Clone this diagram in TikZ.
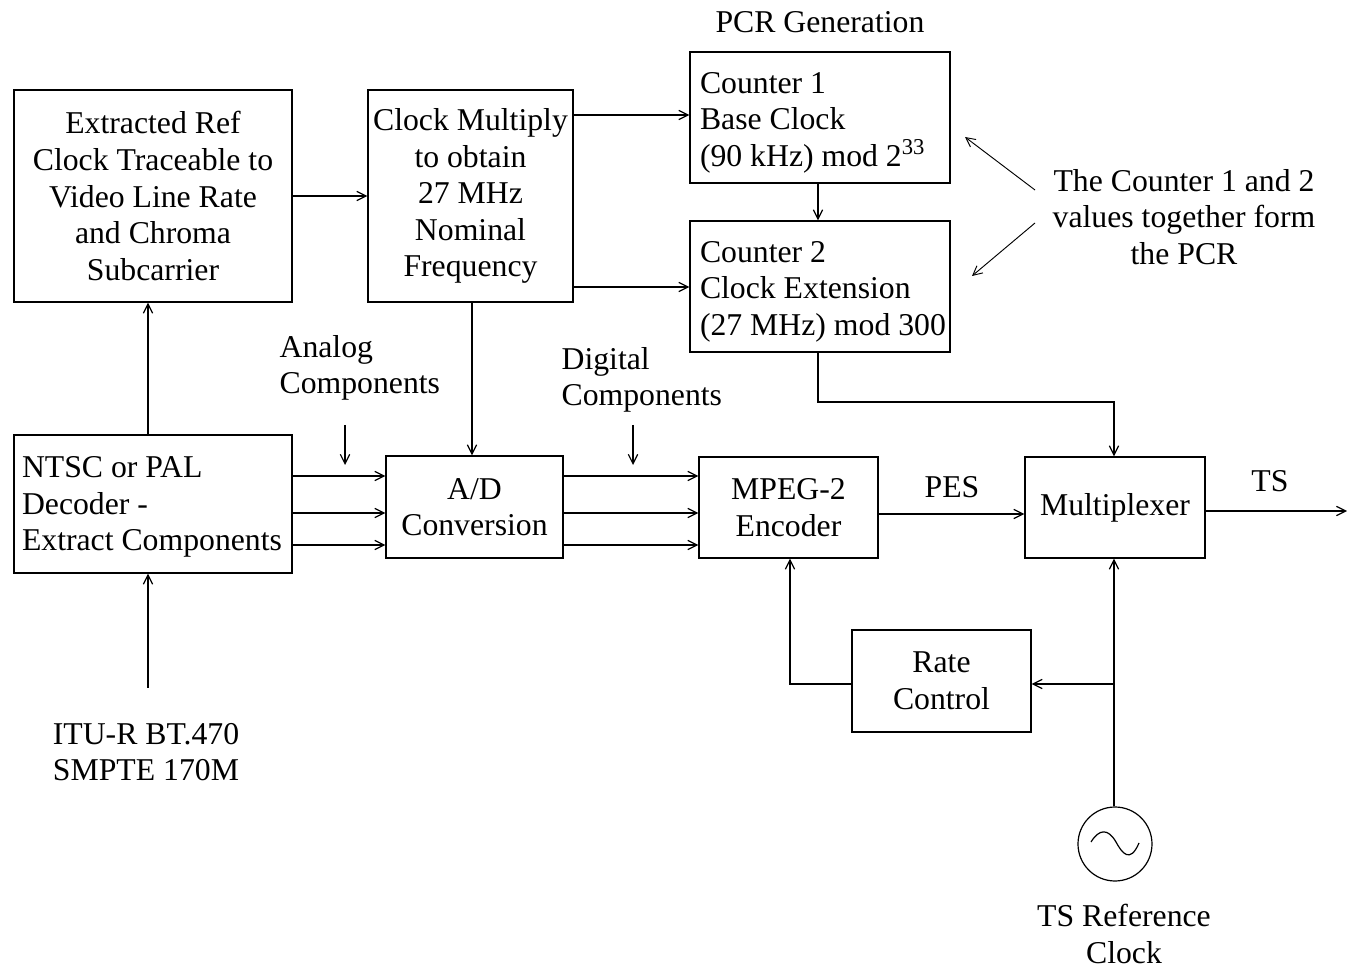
\documentclass[tikz,border=0pt]{standalone}
\usepackage{fontspec}
\setmainfont{Liberation Serif}
\usetikzlibrary{arrows.meta,calc}
\begin{document}
\begin{tikzpicture}[x=0.75pt,y=-0.75pt,
  font=\fontsize{23.8pt}{27.4pt}\selectfont,
  line width=0.9pt,
  arr/.style={-{Straight Barb[length=7pt,width=7pt]}},
  blk/.style={draw,rectangle,inner sep=0pt,align=center},
  lbl/.style={inner sep=0pt,align=center},
  llbl/.style={inner sep=0pt,align=left,anchor=west}]
\useasboundingbox (0,0) rectangle (1347,969);

% processing blocks
\node[blk,minimum width=208.5pt,minimum height=159pt] (ref) at (153,196)
  {Extracted Ref\\Clock Traceable to\\Video Line Rate\\and Chroma\\Subcarrier};
\node[blk,minimum width=153.75pt,minimum height=159pt] (mul) at (470.5,196)
  {Clock Multiply\\to obtain\\27 MHz\\Nominal\\Frequency};
\node[blk,minimum width=195pt,minimum height=98.25pt] (c1) at (820,117.5) {};
\node[llbl] (c1t) at ([xshift=7.5pt,yshift=-4pt]c1.west)
  {Counter 1\\Base Clock\\(90 kHz) mod 2\textsuperscript{\fontsize{17pt}{17pt}\selectfont 33}};
\node[blk,minimum width=195pt,minimum height=98.25pt] (c2) at (820,286.5) {};
\node[llbl] (c2t) at ([xshift=7.5pt,yshift=-4pt]c2.west)
  {Counter 2\\Clock Extension\\(27 MHz) mod 300};
\node[blk,minimum width=208.5pt,minimum height=103.5pt] (dec) at (153,504) {};
\node[llbl] (dect) at ([xshift=6pt,yshift=-2.5pt]dec.west)
  {NTSC or PAL\\Decoder -\\Extract Components};
\node[blk,minimum width=132.75pt,minimum height=76.5pt] (ad) at (474.5,507)
  {A/D\\Conversion};
\node[blk,minimum width=134.25pt,minimum height=75.75pt] (enc) at (788.5,507.5)
  {MPEG-2\\Encoder};
\node[blk,minimum width=135pt,minimum height=75.75pt] (mux) at (1115,507.5)
  {Multiplexer};
\node[blk,minimum width=134.25pt,minimum height=76.5pt] (rate) at (941.5,681)
  {Rate\\Control};

% reference oscillator
\node[draw,circle,minimum size=55.5pt,inner sep=0pt] (osc) at (1115,844) {};
\draw (1091,842) .. controls (1099,829) and (1108,828) .. (1116,842)
  .. controls (1122,853) and (1130,864) .. (1139,843);

% free labels
\node[lbl] (pcr) at (820,22) {PCR Generation};
\node[llbl] (ana) at (279,368) {Analog\\Components};
\node[llbl] (dig) at (561,380) {Digital\\Components};
\node[lbl] (note) at (1184,217) {The Counter 1 and 2\\values together form\\the PCR};
\node[lbl] (itu) at (146,752) {ITU-R BT.470\\SMPTE 170M};
\node[lbl] (pes) at (952,487) {PES};
\node[lbl] (ts) at (1270,481) {TS};
\node[lbl] (tsref) at (1124,934) {TS Reference\\Clock};

% helper coordinates
\coordinate (r1) at (0,476);
\coordinate (r2) at (0,513);
\coordinate (r3) at (0,545);
\coordinate (itube) at (148,688);
\coordinate (tsout) at (1347,511);
\coordinate (bend1) at (818,402);
\coordinate (tap) at (1114,684);
\coordinate (fb) at (790,684);
\coordinate (anaT) at (345,425);
\coordinate (anaB) at (345,465);
\coordinate (digT) at (633,425);
\coordinate (digB) at (633,465);
\coordinate (n1) at (1035,190);
\coordinate (n1e) at (965,137);
\coordinate (n2) at (1035,223);
\coordinate (n2e) at (972,276);

% clock path
\draw[arr] (ref.east |- 0,196) -- (mul.west |- 0,196);
\draw[arr] (mul.east |- 0,115) -- (c1.west |- 0,115);
\draw[arr] (mul.east |- 0,287) -- (c2.west |- 0,287);
\draw[arr] (c1.south -| 818,0) -- (c2.north -| 818,0);
\draw[arr] (c2.south -| bend1) -- (bend1) -| (mux.north -| tap);
\draw[arr] (mul.south -| 472,0) -- (ad.north -| 472,0);
\draw[arr] (dec.north -| 148,0) -- (ref.south -| 148,0);
\draw[arr] (itube) -- (dec.south -| itube);

% component paths
\foreach \r in {r1,r2,r3}{
  \draw[arr] (dec.east |- \r) -- (ad.west |- \r);
  \draw[arr] (ad.east |- \r) -- (enc.west |- \r);
}
\draw[arr] (anaT) -- (anaB);
\draw[arr] (digT) -- (digB);
\draw[arr] (enc.east |- 0,514) -- (mux.west |- 0,514);
\draw[arr] (mux.east |- tsout) -- (tsout);

% reference clock and rate control
\draw[arr] (osc.north -| tap) -- (mux.south -| tap);
\draw[arr] (tap) -- (rate.east |- tap);
\draw[arr] (rate.west |- fb) -- (fb) -- (enc.south -| fb);

% annotation pointers
\draw[arr,line width=0.7pt] (n1) -- (n1e);
\draw[arr,line width=0.7pt] (n2) -- (n2e);
\end{tikzpicture}
\end{document}
